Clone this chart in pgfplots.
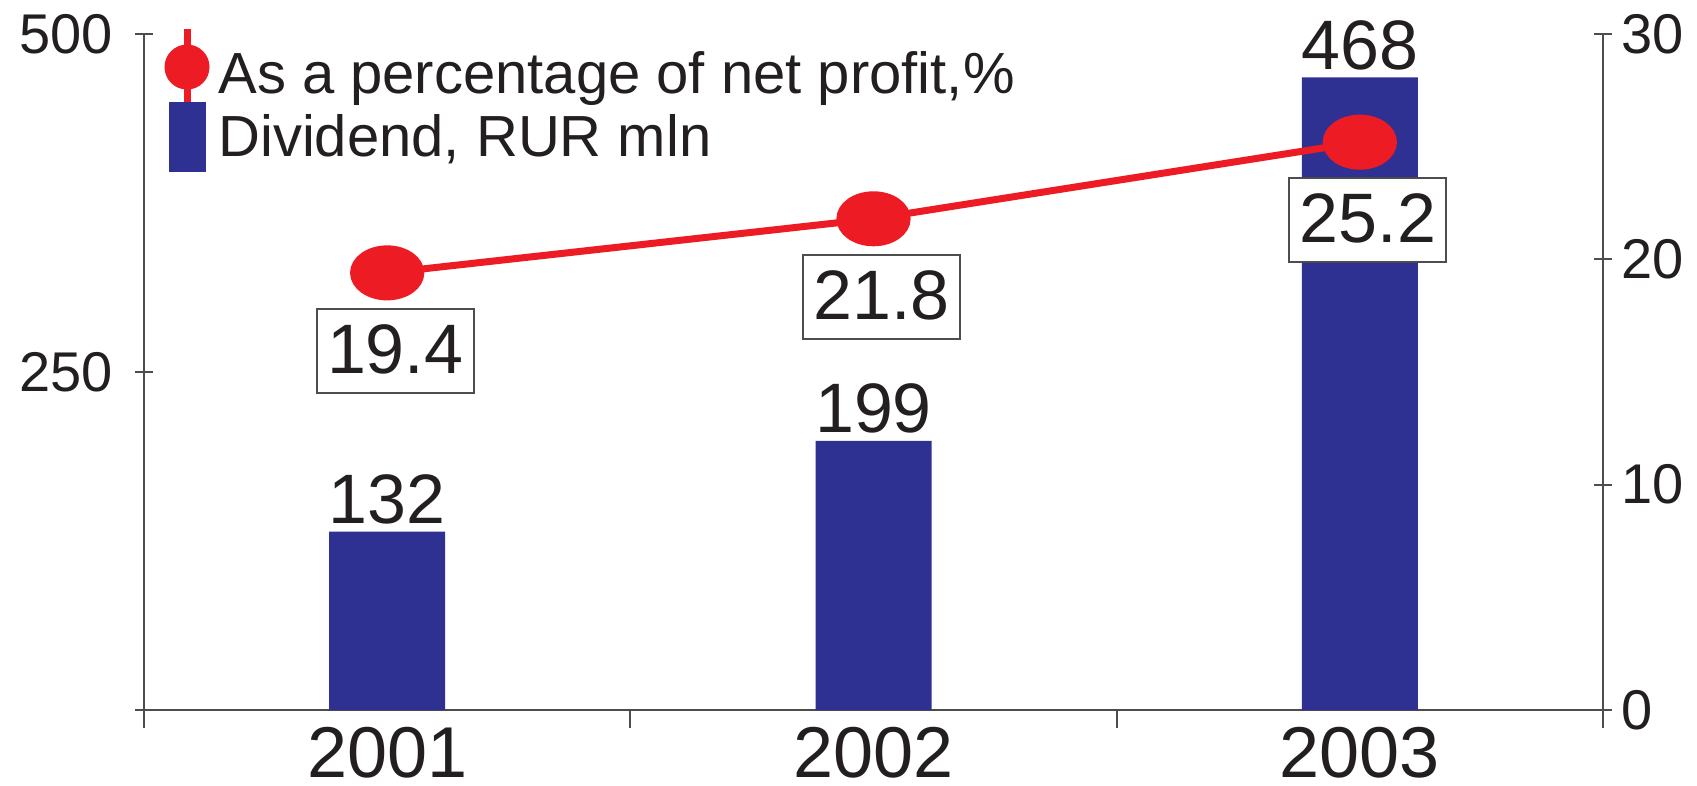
\documentclass[border=0pt]{standalone}
\usepackage{fontspec}
\setmainfont{Liberation Sans}
\usepackage{pgfplots}
\pgfplotsset{compat=1.18}

\definecolor{barblue}{HTML}{2E3192}
\definecolor{linered}{HTML}{ED1C24}
\definecolor{txt}{HTML}{231F20}
\definecolor{axgray}{HTML}{4D4D4D}

% shared frame for the two overlaid axes
\pgfplotsset{
  base/.style={
    width=364.75pt, height=169pt, scale only axis,
    xmin=0.5, xmax=3.5,
    /pgf/number format/assume math mode=true,
    tick align=center,
    major tick length=4.5pt, minor tick length=4.5pt,
    every tick/.style={axgray, line width=0.5pt},
    axis line style={axgray, line width=0.5pt, -},
    ticklabel style={text=txt},
  }
}

\begin{document}
\begin{tikzpicture}
% dividend bars, left axis
\begin{axis}[base, name=ax,
  ymin=0, ymax=500,
  axis x line*=bottom, axis y line*=left,
  ytick={0,250,500}, yticklabels={,250,500},
  xtick={1,2,3}, xticklabels={2001,2002,2003},
  minor xtick={0.5,1.5,2.5,3.5},
  major x tick style={draw=none},
  yticklabel style={font=\fontsize{14}{16}\selectfont, xshift=-2pt},
  xticklabel style={font=\fontsize{18}{20}\selectfont, inner sep=0pt,
    anchor=north, yshift=0.3pt},
  ybar, bar width=29pt,
  nodes near coords,
  nodes near coords style={font=\fontsize{17.5}{20}\selectfont, text=txt,
    anchor=base, inner sep=0pt, yshift=2pt},
]
\addplot[fill=barblue, draw=none] coordinates {(1,132) (2,199) (3,468)};
\end{axis}

% share of net profit, right axis
\begin{axis}[base,
  ymin=0, ymax=30,
  axis x line=none, axis y line*=right,
  ytick={0,10,20,30},
  yticklabel style={font=\fontsize{14}{16}\selectfont, xshift=-1.2pt},
  nodes near coords,
  nodes near coords style={font=\fontsize{17.5}{20}\selectfont, text=txt,
    draw=axgray, line width=0.5pt, fill=white, anchor=north,
    yshift=-8.75pt, xshift=2pt, inner xsep=2.6pt, inner ysep=3.65pt,
    text height=12.5pt, text depth=1.2pt},
  legend cell align=left,
  legend style={at={(axis description cs:0.0168,0.9849)}, anchor=north west,
    draw=none, fill=none, inner sep=0pt, outer sep=0pt,
    row sep=1.35pt, column sep=3.2pt,
    font=\fontsize{14.5}{16}\selectfont, text=txt,
    nodes={inner sep=0pt, text height=12.4pt, text depth=2pt}},
]
\addplot[linered, line width=1.75pt, mark=*, mark size=6pt,
  mark options={xscale=1.4, fill=linered, draw=none},
  legend image code/.code={
    \draw[overlay, linered, line width=1.75pt] (4.625pt,-7.25pt) -- (4.625pt,11pt);
    \fill[overlay, linered] (4.625pt,1.5pt) circle (4.75pt);
    \path[draw=none, fill=none] (0pt,0pt) -- (9.25pt,0pt);
  }] coordinates {(1,19.4) (2,21.8) (3,25.2)};
\addlegendentry{As a percentage of net profit,\%}
\addlegendimage{legend image code/.code={
    \fill[overlay, barblue, draw=none] (0pt,-9pt) rectangle (9.25pt,8.5pt);
    \path[draw=none, fill=none] (0pt,0pt) -- (9.25pt,0pt);
  }}
\addlegendentry{Dividend, RUR mln}
\end{axis}

\pgfresetboundingbox
\path[use as bounding box] ([xshift=-36pt,yshift=-18.75pt]ax.south west)
  rectangle ([xshift=23.5pt,yshift=8.5pt]ax.north east);
\end{tikzpicture}
\end{document}
